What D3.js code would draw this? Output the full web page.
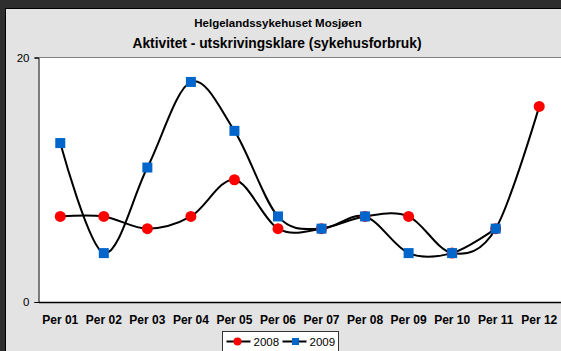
<!DOCTYPE html>
<html>
<head>
<meta charset="utf-8">
<script src="https://cdn.jsdelivr.net/npm/d3@7/dist/d3.min.js"></script>
<style>
  html, body { margin: 0; padding: 0; background: #2e2e2e; }
  svg { display: block; }
  text { font-family: "Liberation Sans", Arial, sans-serif; }
</style>
</head>
<body>
<svg id="chart" width="561" height="351"></svg>
<script>
// Periods and discharge-ready activity per year
const periods = ["Per 01", "Per 02", "Per 03", "Per 04", "Per 05", "Per 06",
                 "Per 07", "Per 08", "Per 09", "Per 10", "Per 11", "Per 12"];
const values2008 = [7, 7, 6, 7, 10, 6, 6, 7, 7, 4, 6, 16];
const values2009 = [13, 4, 11, 18, 14, 7, 6, 7, 4, 4, 6];
const yTicks = [0, 20];

const svg = d3.select("#chart");
const W = 561, H = 351;
const FONT = "'Liberation Sans', Arial, sans-serif";

// outer dark frame and light panel
svg.append("rect").attr("width", W).attr("height", H).attr("fill", "#2e2e2e");
svg.append("rect").attr("x", 5.5).attr("y", 8.5).attr("width", W).attr("height", H)
  .attr("fill", "#e3e3e3").attr("stroke", "#000").attr("stroke-width", 1);

const plot = { left: 38.5, top: 57.5, right: 561, bottom: 302 };

const x = d3.scaleBand().domain(periods).range([plot.left, plot.right]);
const y = d3.scaleLinear().domain([0, 20]).range([plot.bottom, plot.top]);

// plot background
svg.append("rect")
  .attr("x", plot.left).attr("y", plot.top)
  .attr("width", plot.right - plot.left).attr("height", plot.bottom - plot.top)
  .attr("fill", "#fff");
svg.append("line")
  .attr("x1", plot.left).attr("x2", plot.right)
  .attr("y1", plot.top).attr("y2", plot.top)
  .attr("stroke", "#808080").attr("stroke-width", 1);

// titles
svg.append("text").attr("x", 278).attr("y", 27).attr("text-anchor", "middle")
  .attr("font-size", 11.5).attr("font-weight", "bold").text("Helgelandssykehuset Mosjøen");
svg.append("text").attr("x", 277).attr("y", 48).attr("text-anchor", "middle")
  .attr("font-size", 13.8).attr("font-weight", "bold")
  .text("Aktivitet - utskrivingsklare (sykehusforbruk)");

// y axis
const yAxis = svg.append("g").attr("transform", `translate(${plot.left},0)`)
  .call(d3.axisLeft(y).tickValues(yTicks).tickSize(4).tickPadding(5));
yAxis.select(".domain").attr("stroke", "#000");
yAxis.selectAll("text").attr("font-size", 11.5).attr("fill", "#000").attr("font-family", FONT);

// x axis
const xAxis = svg.append("g").attr("transform", `translate(0,${plot.bottom})`)
  .call(d3.axisBottom(x).tickSize(0).tickPadding(13));
xAxis.select(".domain").attr("stroke", "#000").attr("stroke-width", 1.5);
xAxis.selectAll("text").attr("font-size", 12).attr("font-weight", "bold").attr("fill", "#000")
  .attr("font-family", FONT);

const cx = d => x(d) + x.bandwidth() / 2;
const line = d3.line()
  .x((d, i) => cx(periods[i]))
  .y(d => y(d))
  .curve(d3.curveCardinal.tension(0));

// series lines
[values2008, values2009].forEach(vals => {
  svg.append("path").datum(vals).attr("d", line)
    .attr("fill", "none").attr("stroke", "#000").attr("stroke-width", 2);
});

// markers
svg.append("g").selectAll("circle").data(values2008).join("circle")
  .attr("cx", (d, i) => cx(periods[i])).attr("cy", d => y(d))
  .attr("r", 5.5).attr("fill", "#ff0000");
svg.append("g").selectAll("rect").data(values2009).join("rect")
  .attr("x", (d, i) => cx(periods[i]) - 5).attr("y", d => y(d) - 5)
  .attr("width", 10).attr("height", 10).attr("fill", "#0066cc");

// legend
const lg = svg.append("g").attr("transform", "translate(222.5,331.5)");
lg.append("rect").attr("width", 116).attr("height", 30)
  .attr("fill", "#fff").attr("stroke", "#333").attr("stroke-width", 1);
const items = [
  { label: "2008", x0: 4, shape: "circle" },
  { label: "2009", x0: 60, shape: "square" }
];
items.forEach(it => {
  const g = lg.append("g").attr("transform", `translate(${it.x0},10)`);
  g.append("line").attr("x1", 0).attr("x2", 24).attr("stroke", "#000").attr("stroke-width", 2);
  if (it.shape === "circle") {
    g.append("circle").attr("cx", 11).attr("r", 4).attr("fill", "#ff0000");
  } else {
    g.append("rect").attr("x", 9.5).attr("y", -3.5).attr("width", 7).attr("height", 7).attr("fill", "#0066cc");
  }
  g.append("text").attr("x", 27).attr("y", 4).attr("font-size", 11.5).attr("fill", "#000")
    .attr("font-family", FONT).text(it.label);
});
</script>
</body>
</html>
